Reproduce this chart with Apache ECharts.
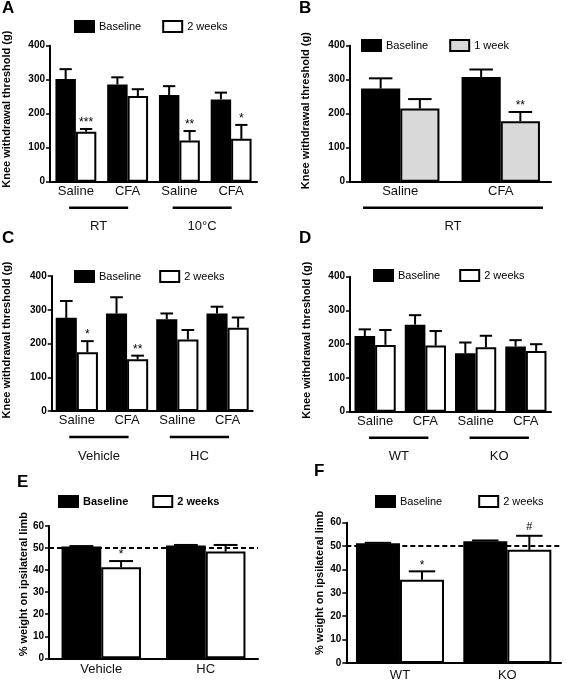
<!DOCTYPE html>
<html><head><meta charset="utf-8">
<script src="https://cdn.jsdelivr.net/npm/echarts@6/dist/echarts.min.js"></script>
<style>html,body{margin:0;padding:0;background:#fff}#c{width:566px;height:682px}</style>
</head><body><div id="c"></div>
<script>
// ---------- data ----------
const catA = ['Saline','CFA','Saline','CFA'];
const baseA = [302,286,255,242];
const baseErrA = [29,21,26,20];
const wk2A = [147,252,121,126];
const wk2ErrA = [8,20,28,41];
const sigA = ['***','','**','*'];
const groupsA = [[0,1],[2,3]];
const groupNamesA = ['RT','10°C'];

const catB = ['Saline','CFA'];
const baseB = [274,308];
const baseErrB = [30,22];
const wk1B = [215,178];
const wk1ErrB = [28,27];
const sigB = ['','**'];
const groupsB = [[0,1]];
const groupNamesB = ['RT'];

const catC = ['Saline','CFA','Saline','CFA'];
const baseC = [276,289,272,289];
const baseErrC = [50,48,17,20];
const wk2C = [174,153,212,247];
const wk2ErrC = [33,11,28,30];
const sigC = ['*','**','',''];
const groupsC = [[0,1],[2,3]];
const groupNamesC = ['Vehicle','HC'];

const catD = ['Saline','CFA','Saline','CFA'];
const baseD = [224,258,173,193];
const baseErrD = [20,28,32,19];
const wk2D = [198,196,191,180];
const wk2ErrD = [44,43,34,20];
const sigD = ['','','',''];
const groupsD = [[0,1],[2,3]];
const groupNamesD = ['WT','KO'];

const catE = ['Vehicle','HC'];
const baseE = [50.7,51.2];
const baseErrE = [0.2,0.2];
const wk2E = [41.3,48.4];
const wk2ErrE = [2.8,3.0];
const sigE = ['*',''];

const catF = ['WT','KO'];
const baseF = [51.2,52.1];
const baseErrF = [0.2,0.3];
const wk2F = [35.6,48.4];
const wk2ErrF = [3.6,6.0];
const sigF = ['*','#'];

const kneeTicks = {min:0, max:400, interval:100};
const weightTicks = {min:0, max:60, interval:10};
const refLine = 50;

// ---------- layout / style ----------
const FONT = "'Liberation Sans', Arial, Helvetica, sans-serif";
const panels = [
  {letter:'A', cats:catA, s:[['Baseline',baseA,baseErrA,'#000'],['2 weeks',wk2A,wk2ErrA,'#fff']], sig:sigA,
   groups:groupsA, gnames:groupNamesA, ticks:kneeTicks, yName:'Knee withdrawal threshold (g)',
   grid:{left:50,top:45.7,width:207,height:136}, gap:'21%', lg:{left:74,top:20,itemGap:21,bold:false},
   nameGap:37.5, namePad:9, ext:[-0.13,0.01], lt:{left:2,top:0}, lblMargin:3},
  {letter:'B', cats:catB, s:[['Baseline',baseB,baseErrB,'#000'],['1 week',wk1B,wk1ErrB,'#d9d9d9']], sig:sigB,
   groups:groupsB, gnames:groupNamesB, ticks:kneeTicks, yName:'Knee withdrawal threshold (g)',
   grid:{left:350,top:45.7,width:201,height:136}, gap:'22%', lg:{left:361,top:39,itemGap:21,bold:false},
   nameGap:38.5, namePad:6, ext:[-0.37,0.42], lt:{left:299,top:0}, lblMargin:3},
  {letter:'C', cats:catC, s:[['Baseline',baseC,baseErrC,'#000'],['2 weeks',wk2C,wk2ErrC,'#fff']], sig:sigC,
   groups:groupsC, gnames:groupNamesC, ticks:kneeTicks, yName:'Knee withdrawal threshold (g)',
   grid:{left:51.7,top:276,width:201,height:135}, gap:'16%', lg:{left:74,top:270,itemGap:18,bold:false},
   nameGap:39, namePad:7, ext:[-0.15,0.03], lt:{left:2,top:230}, lblMargin:3},
  {letter:'D', cats:catD, s:[['Baseline',baseD,baseErrD,'#000'],['2 weeks',wk2D,wk2ErrD,'#fff']], sig:sigD,
   groups:groupsD, gnames:groupNamesD, ticks:kneeTicks, yName:'Knee withdrawal threshold (g)',
   grid:{left:350,top:276.7,width:201,height:135}, gap:'18%', lg:{left:373,top:269,itemGap:19,bold:false},
   nameGap:37.5, namePad:8, ext:[-0.12,0.06], lt:{left:299,top:230}, lblMargin:3},
  {letter:'E', cats:catE, s:[['Baseline',baseE,baseErrE,'#000'],['2 weeks',wk2E,wk2ErrE,'#fff']], sig:sigE,
   groups:null, ticks:weightTicks, yName:'% weight on ipsilateral limb',
   grid:{left:49,top:526,width:209,height:132.3}, gap:'24%', lg:{left:58,top:495,itemGap:24,bold:true},
   nameGap:18.5, namePad:16, lt:{left:17,top:474}, lblMargin:5, ref:true},
  {letter:'F', cats:catF, s:[['Baseline',baseF,baseErrF,'#000'],['2 weeks',wk2F,wk2ErrF,'#fff']], sig:sigF,
   groups:null, ticks:weightTicks, yName:'% weight on ipsilateral limb',
   grid:{left:346.3,top:522.7,width:214.7,height:141.6}, gap:'18%', lg:{left:375,top:495,itemGap:36,bold:false},
   nameGap:21, namePad:20, lt:{left:314,top:463}, lblMargin:6, ref:true}
];

const option = {animation:false, backgroundColor:'#fff', textStyle:{fontFamily:FONT},
  grid:[], xAxis:[], yAxis:[], series:[], legend:[], title:[]};

function errRenderer(side, gapFrac, sig){
  return function(params, api){
    const ci = api.value(0), v = api.value(1), e = api.value(2);
    const band = api.size([1,0])[0];
    const bw = band*(1-gapFrac)/2;
    const p = api.coord([ci, v]);
    const x = p[0] + (side===0 ? -bw/2 : bw/2);
    const top = api.coord([ci, v+e])[1];
    const cap = Math.max(bw*0.6, 12)/2;
    const ch = [
      {type:'line', shape:{x1:x,y1:p[1],x2:x,y2:top}, style:{stroke:'#000',lineWidth:2}},
      {type:'line', shape:{x1:x-cap,y1:top,x2:x+cap,y2:top}, style:{stroke:'#000',lineWidth:2}}
    ];
    const s = sig ? sig[params.dataIndex] : '';
    if (s) ch.push({type:'text', z2:20, style:{text:s, x:x, y:top-(s==='#'?9:6), align:'center', verticalAlign:'middle',
      font:(s==='#'?'11px ':'12px ')+FONT, fill:'#000'}});
    return {type:'group', children:ch};
  };
}

function groupRenderer(ext, names){
  return function(params, api){
    const a = api.coord([api.value(0), 0]);
    const b = api.coord([api.value(1), 0]);
    const band = api.size([1,0])[0];
    const x0 = a[0] + ext[0]*band, x1 = b[0] + ext[1]*band;
    const y = a[1] + 26;
    return {type:'group', children:[
      {type:'line', shape:{x1:x0,y1:y,x2:x1,y2:y}, style:{stroke:'#000',lineWidth:2.5}},
      {type:'text', style:{text:names[params.dataIndex], x:(x0+x1)/2, y:a[1]+45, align:'center',
        verticalAlign:'middle', font:'13px '+FONT, fill:'#111'}}
    ]};
  };
}

panels.forEach((p, k) => {
  option.grid.push(Object.assign({containLabel:false}, p.grid));
  option.xAxis.push({type:'category', gridIndex:k, data:p.cats,
    axisLine:{lineStyle:{color:'#000',width:2}}, axisTick:{show:false},
    axisLabel:{interval:0, fontSize:13, color:'#111', margin:p.lblMargin, fontFamily:FONT}});
  option.yAxis.push({type:'value', gridIndex:k, min:p.ticks.min, max:p.ticks.max, interval:p.ticks.interval,
    splitLine:{show:false},
    axisLine:{show:true, lineStyle:{color:'#000',width:2}},
    axisTick:{show:true, length:4, lineStyle:{color:'#000',width:1.5}},
    axisLabel:{fontSize:10, fontWeight:'bold', color:'#000', margin:5, fontFamily:FONT},
    name:p.yName, nameLocation:'middle', nameRotate:90, nameGap:p.nameGap,
    nameTextStyle:{fontSize:11, fontWeight:'bold', color:'#000', fontFamily:FONT, padding:[0,0,0,p.namePad]}});
  const gapFrac = parseFloat(p.gap)/100;
  p.s.forEach((s, j) => {
    const ser = {type:'bar', name:s[0], xAxisIndex:k, yAxisIndex:k, data:s[1],
      barGap:'0%', barCategoryGap:p.gap,
      itemStyle:{color:s[3], borderColor:'#000', borderWidth:2}};
    if (p.ref && j===0) ser.markLine = {silent:true, symbol:'none', label:{show:false}, z:3,
      lineStyle:{color:'#000', type:[5,3], width:1.8}, data:[{yAxis:refLine}]};
    option.series.push(ser);
  });
  p.s.forEach((s, j) => {
    option.series.push({type:'custom', xAxisIndex:k, yAxisIndex:k, z:6, clip:false,
      data:s[1].map((v,i)=>[i, v, s[2][i]]), encode:{x:0, y:1},
      renderItem:errRenderer(j, gapFrac, j===1 ? p.sig : null)});
  });
  if (p.groups) option.series.push({type:'custom', xAxisIndex:k, yAxisIndex:k, clip:false, silent:true,
    data:p.groups.map(g=>[g[0], g[1], 0]), encode:{x:[0,1], y:2},
    renderItem:groupRenderer(p.ext, p.gnames)});
  option.legend.push({left:p.lg.left, top:p.lg.top, padding:0, itemGap:p.lg.itemGap,
    itemWidth:19, itemHeight:11, selectedMode:false, icon:'rect',
    data:[p.s[0][0], p.s[1][0]],
    textStyle:{fontSize:11, color:'#000', fontWeight:p.lg.bold?'bold':'normal', fontFamily:FONT}});
  option.title.push({text:p.letter, left:p.lt.left, top:p.lt.top, padding:0,
    textStyle:{fontSize:17, fontWeight:'bold', color:'#000', fontFamily:FONT}});
});

const chart = echarts.init(document.getElementById('c'), null, {renderer:'canvas'});
chart.setOption(option);
</script>
</body></html>
